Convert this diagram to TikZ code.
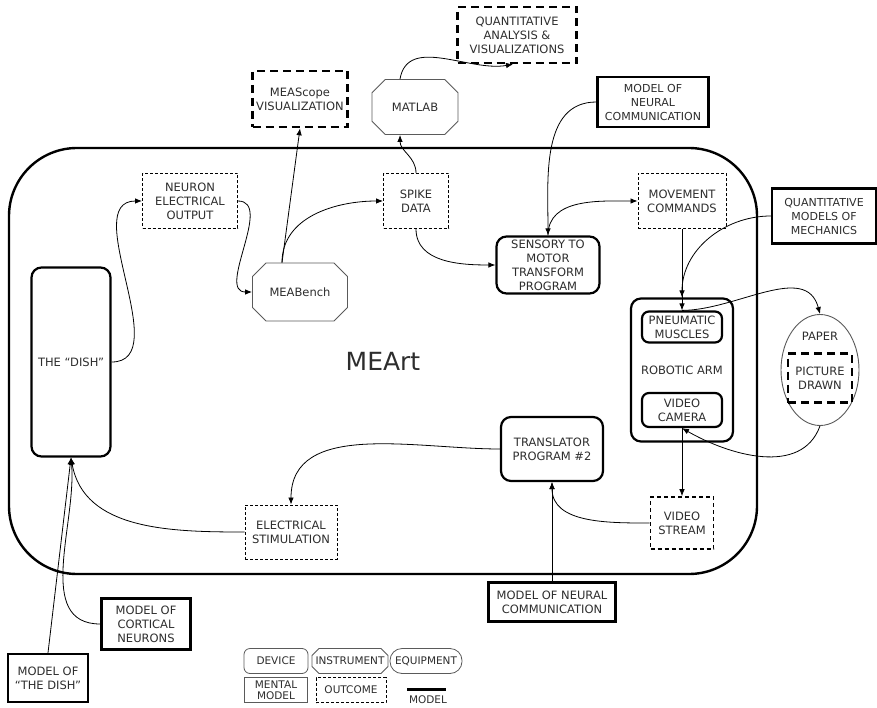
\documentclass[tikz,border=0pt]{standalone}
\usepackage{fontspec}
\setmainfont{DejaVu Sans}
\usepackage{xcolor}
\usepackage{tikz}
\usetikzlibrary{positioning, arrows.meta, shapes.misc, shapes.geometric}
\definecolor{ink}{RGB}{45,45,45}
\definecolor{rim}{RGB}{90,90,90}

\tikzset{
        lbl/.style={font=\fontsize{11.5}{14}\selectfont, text=ink, align=center, inner sep=1pt},
        legend/.style={lbl, font=\fontsize{10.5}{11}\selectfont},
        device/.style={lbl, draw, line width=2.2pt, rounded corners=10pt},
        instrument/.style={lbl, draw=rim, line width=0.9pt, chamfered rectangle, chamfered rectangle xsep=8pt, chamfered rectangle ysep=8pt},
        outcome/.style={lbl, draw, line width=0.9pt, dash pattern=on 3pt off 2pt},
        result/.style={lbl, draw, line width=2.6pt, dash pattern=on 8pt off 5pt},
        mental/.style={lbl, font=\fontsize{11}{14}\selectfont, draw, line width=2.4pt},
        link/.style={-{Latex[length=7pt,width=5.5pt]}, line width=0.8pt},
}

\begin{document}
\begin{tikzpicture}[x=1pt, y=-1pt]
        \useasboundingbox (0,0) rectangle (877,708);
        \node[draw, line width=2.4pt, rounded corners=68pt, minimum width=748pt, minimum height=426pt, font=\fontsize{25}{30}\selectfont, text=ink] (meart) at (383,361) {MEArt};
        \node[device, minimum width=79pt, minimum height=189pt] (dish) at (71,362) {THE “DISH”};
        \node[outcome, minimum width=95pt, minimum height=55pt] (neuron) at (190,201) {NEURON\\ELECTRICAL\\OUTPUT};
        \node[instrument, minimum width=95pt, minimum height=58pt] (meabench) at (300,292) {MEABench};
        \node[result, minimum width=95pt, minimum height=56pt, inner sep=0pt] (meascope) at (300,99) {MEAScope\\VISUALIZATION};
        \node[instrument, minimum width=86pt, minimum height=55pt] (matlab) at (415,107) {MATLAB};
        \node[result, minimum width=119pt, minimum height=56pt] (analysis) at (517,35) {QUANTITATIVE\\ANALYSIS \&\\VISUALIZATIONS};
        \node[outcome, minimum width=65pt, minimum height=55pt] (spike) at (416,201) {SPIKE\\DATA};
        \node[device, minimum width=103pt, minimum height=57pt, inner sep=0pt] (sensory) at (548,265) {SENSORY TO\\MOTOR\\TRANSFORM\\PROGRAM};
        \node[mental, minimum width=111pt, minimum height=50pt, inner sep=0pt] (neuraltop) at (653,102) {MODEL OF\\NEURAL\\COMMUNICATION};
        \node[outcome, minimum width=88pt, minimum height=55pt] (movement) at (682,201) {MOVEMENT\\COMMANDS};
        \node[mental, minimum width=104pt, minimum height=55pt] (mechanics) at (824,216) {QUANTITATIVE\\MODELS OF\\MECHANICS};
        \node[device, minimum width=102pt, minimum height=143pt] (arm) at (682,370) {ROBOTIC ARM};
        \node[device, rounded corners=7pt, minimum width=80pt, minimum height=31pt, inner sep=0pt] (muscles) at (682,327) {PNEUMATIC\\MUSCLES};
        \node[device, rounded corners=7pt, minimum width=80pt, minimum height=34pt, inner sep=0pt] (camera) at (682,410) {VIDEO\\CAMERA};
        \node[ellipse, draw=rim, line width=0.9pt, minimum width=78pt, minimum height=111pt] (paper) at (820,370) {};
        \node[lbl, below=17pt of paper.north] (papertext) {PAPER};
        \node[result, minimum width=64pt, minimum height=49pt, inner sep=0pt] (picture) at (820,378) {PICTURE\\DRAWN};
        \node[outcome, line width=1.6pt, dash pattern=on 4pt off 3pt, minimum width=63pt, minimum height=52pt] (stream) at (682,523) {VIDEO\\STREAM};
        \node[device, minimum width=102pt, minimum height=64pt] (translator) at (552,449) {TRANSLATOR\\PROGRAM \#2};
        \node[outcome, minimum width=92pt, minimum height=54pt, inner sep=0pt] (stim) at (291,532) {ELECTRICAL\\STIMULATION};
        \node[mental, font=\fontsize{11.5}{14}\selectfont, minimum width=127pt, minimum height=39pt] (neuralbot) at (552,602) {MODEL OF NEURAL\\COMMUNICATION};
        \node[mental, font=\fontsize{11.5}{14}\selectfont, minimum width=89pt, minimum height=51pt] (cortical) at (146,624) {MODEL OF\\CORTICAL\\NEURONS};
        \node[mental, font=\fontsize{11.5}{14}\selectfont, minimum width=80pt, minimum height=48pt] (dishmodel) at (48,678) {MODEL OF\\“THE DISH”};

        \node[legend, draw=rim, line width=0.8pt, rounded corners=6pt, minimum width=64pt, minimum height=25pt] (ldevice) at (276,661) {DEVICE};
        \node[legend, draw=rim, line width=0.8pt, chamfered rectangle, chamfered rectangle xsep=3.5pt, chamfered rectangle ysep=3.5pt, minimum width=74pt, minimum height=25pt, inner sep=0pt] (linstrument) at (350,661) {INSTRUMENT};
        \node[legend, draw=rim, line width=0.8pt, rounded corners=12pt, minimum width=72pt, minimum height=25pt] (lequipment) at (426,661) {EQUIPMENT};
        \node[legend, draw=rim, line width=0.8pt, minimum width=63pt, minimum height=25pt, inner sep=0pt] (lmental) at (276,690) {MENTAL\\MODEL};
        \node[legend, draw, line width=0.9pt, dash pattern=on 3pt off 2pt, minimum width=70pt, minimum height=25pt] (loutcome) at (351,690) {OUTCOME};
        \coordinate (lmodelA) at (407,689);
        \coordinate (lmodelB) at (446,689);
        \draw[line width=3pt] (lmodelA) -- (lmodelB);
        \node[legend] (lmodel) at (428,700) {MODEL};

        \draw[link] (dish.east) to[out=0, in=180] (neuron.west);
        \draw[link] (neuron.east) to[out=0, in=180] (meabench.west);
        \draw[link] ([xshift=-18pt]meabench.north) -- (meascope.south);
        \draw[link] ([xshift=-18pt]meabench.north) to[out=90, in=180] (spike.west);
        \draw[link] (spike.north) to[out=90, in=-90] ([xshift=-15pt]matlab.south);
        \draw[link] ([xshift=-15pt]matlab.north) to[out=80, in=190] ([xshift=-4pt]analysis.south);
        \draw[link] (spike.south) to[out=-90, in=180] (sensory.west);
        \draw[link] (neuraltop.west) to[out=180, in=90] (sensory.north);
        \draw[link] (sensory.north) to[out=90, in=180] (movement.west);
        \draw[link] (movement.south) -- (muscles.north);
        \draw[link] (mechanics.west) to[out=180, in=90] (arm.north);
        \draw[link] (muscles.north) to[out=0, in=105] (paper.north);
        \draw[link] (paper.south) to[out=-110, in=-30] (camera.south);
        \draw[link] (camera.south) -- (stream.north);
        \draw[link] (stream.west) to[out=180, in=-90] (translator.south);
        \draw[link] (neuralbot.north) -- (translator.south);
        \draw[link] (translator.west) to[out=180, in=90] (stim.north);
        \draw[link] (stim.west) to[out=180, in=-80] (dish.south);
        \draw[link] (cortical.west) to[out=180, in=-85] (dish.south);
        \draw[link] (dishmodel.north) -- (dish.south);
\end{tikzpicture}
\end{document}
